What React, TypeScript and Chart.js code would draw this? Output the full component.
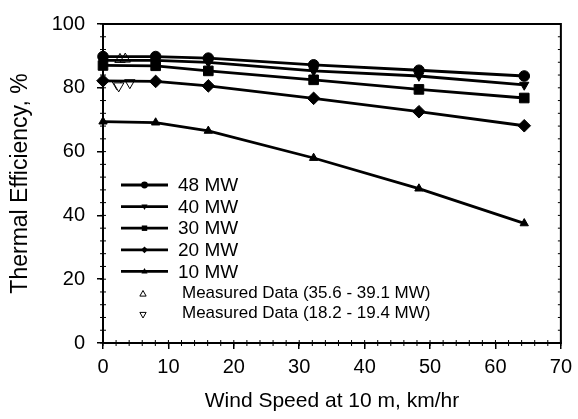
import React, { useEffect, useRef } from 'react';
import { Chart, registerables } from 'chart.js';

Chart.register(...registerables);

// ---- data ----
const windSpeeds = [0, 8.05, 16.1, 32.2, 48.3, 64.4];
const eff48 = [89.8, 89.8, 89.3, 87.2, 85.5, 83.7];
const eff40 = [88.6, 88.6, 88.0, 85.3, 83.7, 80.9];
const eff30 = [87.0, 86.9, 85.3, 82.5, 79.5, 76.8];
const eff20 = [82.2, 82.0, 80.6, 76.7, 72.5, 68.1];
const eff10 = [69.4, 69.1, 66.5, 58.0, 48.4, 37.5];

const measuredHighX = [2.6, 3.4];
const measuredHighY = [88.9, 89.0];
const measuredLowX = [2.1, 2.4, 4.1];
const measuredLowY = [81.3, 80.6, 81.6];

const seriesLabels = ['48 MW', '40 MW', '30 MW', '20 MW', '10 MW'];
const measuredLabels = ['Measured Data (35.6 - 39.1 MW)', 'Measured Data (18.2 - 19.4 MW)'];

const xTitle = 'Wind Speed at 10 m, km/hr';
const yTitle = 'Thermal Efficiency, %';

const FONT = '"Liberation Sans", Arial, Helvetica, sans-serif';

type MarkerKind = 'circle' | 'triDown' | 'square' | 'diamond' | 'triUp';

function drawMarker(ctx: CanvasRenderingContext2D, kind: MarkerKind, x: number, y: number, r: number, filled: boolean) {
  ctx.beginPath();
  if (kind === 'circle') {
    ctx.arc(x, y, r, 0, Math.PI * 2);
  } else if (kind === 'square') {
    const s = r * 0.8;
    ctx.rect(x - s, y - s, 2 * s, 2 * s);
  } else if (kind === 'diamond') {
    ctx.moveTo(x, y - r);
    ctx.lineTo(x + r, y);
    ctx.lineTo(x, y + r);
    ctx.lineTo(x - r, y);
    ctx.closePath();
  } else if (kind === 'triUp') {
    ctx.moveTo(x, y - r);
    ctx.lineTo(x + r * 0.9, y + r * 0.6);
    ctx.lineTo(x - r * 0.9, y + r * 0.6);
    ctx.closePath();
  } else {
    ctx.moveTo(x, y + r);
    ctx.lineTo(x + r * 0.9, y - r * 0.6);
    ctx.lineTo(x - r * 0.9, y - r * 0.6);
    ctx.closePath();
  }
  if (filled) {
    ctx.fillStyle = '#000';
    ctx.fill();
  } else {
    ctx.fillStyle = '#fff';
    ctx.fill();
    ctx.lineWidth = 1;
    ctx.strokeStyle = '#000';
    ctx.stroke();
  }
}

const legendKinds: MarkerKind[] = ['circle', 'triDown', 'square', 'diamond', 'triUp'];

const decorPlugin = {
  id: 'decor',
  afterDraw(chart: any) {
    const { ctx, chartArea } = chart;
    const xs = chart.scales.x;
    const ys = chart.scales.y;
    ctx.save();
    // frame
    ctx.strokeStyle = '#000';
    ctx.lineWidth = 2;
    ctx.strokeRect(chartArea.left, chartArea.top, chartArea.right - chartArea.left, chartArea.bottom - chartArea.top);
    // minor ticks
    ctx.lineWidth = 1;
    ctx.beginPath();
    for (let v = 0; v <= 100; v += 4) {
      const py = ys.getPixelForValue(v);
      ctx.moveTo(chartArea.left - 3, py);
      ctx.lineTo(chartArea.left + 3, py);
      ctx.moveTo(chartArea.right - 3, py);
      ctx.lineTo(chartArea.right, py);
    }
    for (let v = 0; v <= 70; v += 2) {
      const px = xs.getPixelForValue(v);
      ctx.moveTo(px, chartArea.bottom + 3);
      ctx.lineTo(px, chartArea.bottom - 3);
    }
    ctx.stroke();

    // legend
    const lx0 = chartArea.left + 18;
    const lx1 = chartArea.left + 65;
    const tx = chartArea.left + 75;
    const row0 = chartArea.top + 161;
    const step = 21.6;
    ctx.textBaseline = 'middle';
    ctx.textAlign = 'left';
    seriesLabels.forEach((lab, i) => {
      const y = row0 + i * step;
      ctx.strokeStyle = '#000';
      ctx.lineWidth = 2.8;
      ctx.beginPath();
      ctx.moveTo(lx0, y);
      ctx.lineTo(lx1, y);
      ctx.stroke();
      drawMarker(ctx, legendKinds[i], (lx0 + lx1) / 2, y, 3.4, true);
      ctx.fillStyle = '#000';
      ctx.font = `19px ${FONT}`;
      ctx.fillText(lab, tx, y + 1);
    });
    measuredLabels.forEach((lab, i) => {
      const y = row0 + 5 * step + i * 20.5;
      drawMarker(ctx, i === 0 ? 'triUp' : 'triDown', chartArea.left + 40, y + 1, 3.5, false);
      ctx.fillStyle = '#000';
      ctx.font = `17px ${FONT}`;
      ctx.fillText(lab, chartArea.left + 79, y);
    });
    ctx.restore();
  },
};

function toPts(xv: number[], yv: number[]) {
  return xv.map((x, i) => ({ x, y: yv[i] }));
}

export default function App() {
  const ref = useRef<HTMLCanvasElement | null>(null);

  useEffect(() => {
    if (!ref.current) return;
    const lineDs = (label: string, data: number[], pointStyle: any, radius: number, rotation = 0) => ({
      label,
      data: toPts(windSpeeds, data),
      borderColor: '#000',
      backgroundColor: '#000',
      borderWidth: 2.8,
      pointStyle,
      pointRadius: radius,
      pointRotation: rotation,
      pointBorderWidth: 1,
      pointBackgroundColor: '#000',
      pointBorderColor: '#000',
      showLine: true,
      tension: 0,
      clip: false as any,
    });
    const measDs = (label: string, xv: number[], yv: number[], rotation: number) => ({
      label,
      data: toPts(xv, yv),
      borderColor: '#000',
      backgroundColor: '#fff',
      pointStyle: 'triangle',
      pointRotation: rotation,
      pointRadius: 6,
      pointBorderWidth: 1,
      pointBackgroundColor: '#fff',
      pointBorderColor: '#000',
      showLine: false,
      clip: false as any,
    });

    const chart = new Chart(ref.current, {
      type: 'scatter',
      data: {
        datasets: [
          lineDs(seriesLabels[0], eff48, 'circle', 5.3),
          lineDs(seriesLabels[1], eff40, 'triangle', 5.3, 180),
          lineDs(seriesLabels[2], eff30, 'rect', 6.8),
          lineDs(seriesLabels[3], eff20, 'rectRot', 6.3),
          lineDs(seriesLabels[4], eff10, 'triangle', 4.8),
          measDs(measuredLabels[0], measuredHighX, measuredHighY, 0),
          measDs(measuredLabels[1], measuredLowX, measuredLowY, 180),
        ] as any,
      },
      options: {
        responsive: false,
        animation: false,
        events: [],
        layout: { padding: { left: 0, right: 15, top: 23, bottom: 0 } },
        plugins: {
          legend: { display: false },
          tooltip: { enabled: false },
          title: { display: false },
        },
        scales: {
          x: {
            type: 'linear',
            min: 0,
            max: 70,
            ticks: {
              stepSize: 10,
              color: '#000',
              font: { size: 20, family: FONT },
              padding: 6,
              maxRotation: 0,
            },
            grid: { drawOnChartArea: false, color: '#000', tickLength: 6, lineWidth: 1.5 },
            border: { color: '#000', width: 2 },
            title: {
              display: true,
              text: xTitle,
              color: '#000',
              font: { size: 21, family: FONT },
              padding: { top: 0, bottom: 5 },
            },
            afterFit: (s: any) => {
              s.height = 76;
            },
          },
          y: {
            type: 'linear',
            min: 0,
            max: 100,
            ticks: {
              stepSize: 20,
              color: '#000',
              font: { size: 20, family: FONT },
              padding: 12,
            },
            grid: { drawOnChartArea: false, color: '#000', tickLength: 6, lineWidth: 1.5 },
            border: { color: '#000', width: 2 },
            title: {
              display: true,
              text: yTitle,
              color: '#000',
              font: { size: 23, family: FONT },
              padding: { top: 7, bottom: 0 },
            },
            afterFit: (s: any) => {
              s.width = 103;
            },
          },
        },
      },
      plugins: [decorPlugin],
    });
    return () => chart.destroy();
  }, []);

  return (
    <div style={{ position: 'absolute', left: 0, top: 0, width: 578, height: 419, background: '#fff' }}>
      <canvas ref={ref} width={578} height={419} style={{ display: 'block' }} />
    </div>
  );
}
